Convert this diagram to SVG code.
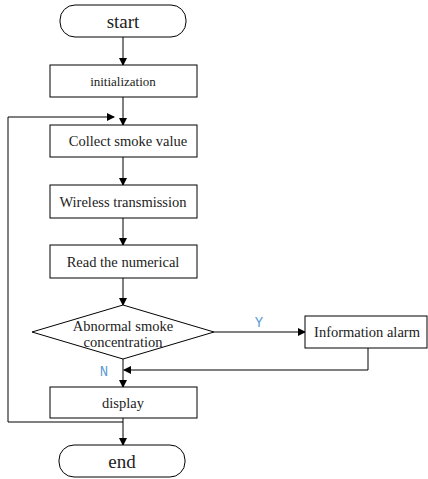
<svg xmlns="http://www.w3.org/2000/svg" width="428" height="479" viewBox="0 0 428 479">
<defs>
<marker id="ah" markerWidth="8" markerHeight="8" refX="7" refY="4" orient="auto" markerUnits="userSpaceOnUse">
<path d="M0,0 L8,4 L0,8 Z" fill="#000"/>
</marker>
<style>
.box{fill:#fff;stroke:#000;stroke-width:1}
.ln{fill:none;stroke:#000;stroke-width:1}
.t{font-family:"Liberation Serif",serif;font-size:14.5px;fill:#222;text-anchor:middle;dominant-baseline:central}
.lb{font-family:"Liberation Mono",monospace;font-size:14px;fill:#5b9bd5;text-anchor:middle;dominant-baseline:central}
</style>
</defs>
<g id="connectors">
<line class="ln" x1="123" y1="37" x2="123" y2="65" marker-end="url(#ah)"/>
<line class="ln" x1="123" y1="97" x2="123" y2="125" marker-end="url(#ah)"/>
<line class="ln" x1="123" y1="157" x2="123" y2="185" marker-end="url(#ah)"/>
<line class="ln" x1="123" y1="218" x2="123" y2="245" marker-end="url(#ah)"/>
<line class="ln" x1="123" y1="278" x2="123" y2="305" marker-end="url(#ah)"/>
<line class="ln" x1="123" y1="359" x2="123" y2="387" marker-end="url(#ah)"/>
<line class="ln" x1="214" y1="332" x2="305" y2="332" marker-end="url(#ah)"/>
<polyline class="ln" points="368,348 368,370 124,370" marker-end="url(#ah)"/>
<line class="ln" x1="123" y1="418" x2="123" y2="445" marker-end="url(#ah)"/>
<polyline class="ln" points="123,422 8,422 8,117 114,117" marker-end="url(#ah)"/>
<text class="lb" x="259" y="323">Y</text>
<text class="lb" x="104" y="372">N</text>
</g>
<g id="start">
<rect class="box" x="60" y="5" width="126" height="32" rx="15"/>
<text class="t" x="123" y="21" style="font-size:19px">start</text>
</g>
<g id="init">
<rect class="box" x="50" y="65" width="147" height="32"/>
<text class="t" x="123" y="81" style="font-size:13px">initialization</text>
</g>
<g id="collect">
<rect class="box" x="50" y="125" width="147" height="32"/>
<text class="t" x="128" y="141">Collect smoke value</text>
</g>
<g id="wireless">
<rect class="box" x="50" y="185" width="147" height="33"/>
<text class="t" x="123" y="202">Wireless transmission</text>
</g>
<g id="read">
<rect class="box" x="50" y="245" width="147" height="33"/>
<text class="t" x="123" y="262">Read the numerical</text>
</g>
<g id="decision">
<polygon class="box" points="123,305 214,332 123,359 32,332"/>
<text class="t" x="123" y="326">Abnormal smoke</text>
<text class="t" x="123" y="342">concentration</text>
</g>
<g id="alarm">
<rect class="box" x="305" y="316" width="122" height="32"/>
<text class="t" x="367" y="332">Information alarm</text>
</g>
<g id="display">
<rect class="box" x="50" y="387" width="147" height="31"/>
<text class="t" x="123" y="403">display</text>
</g>
<g id="end">
<rect class="box" x="59" y="445" width="126" height="32" rx="15"/>
<text class="t" x="122" y="461" style="font-size:19px">end</text>
</g>
</svg>
